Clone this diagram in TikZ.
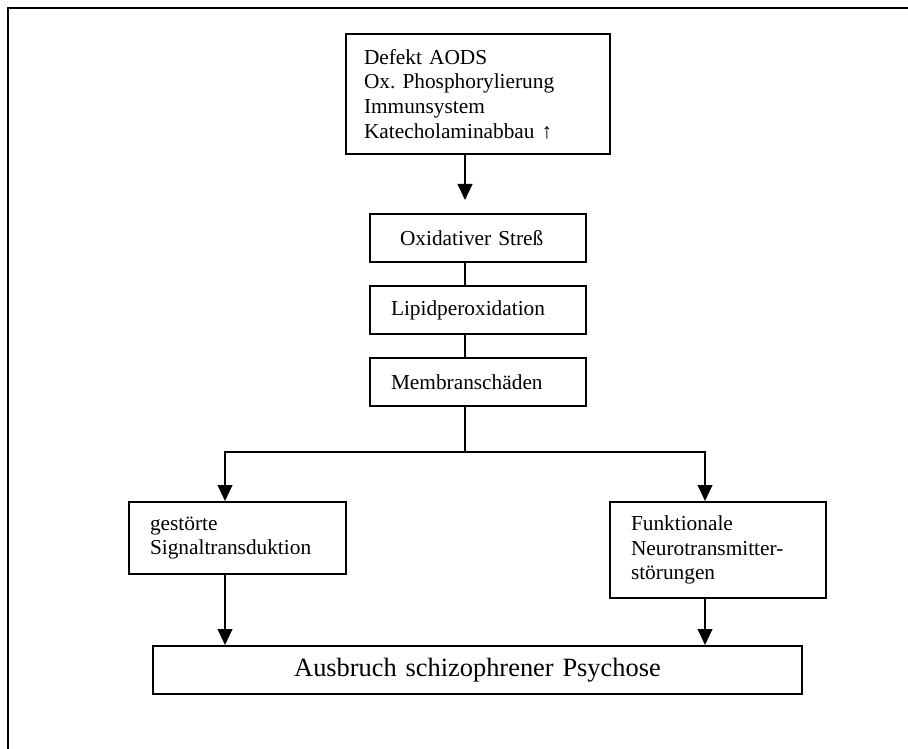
\documentclass[tikz,border=0pt]{standalone}
\usepackage{fontspec}
\setmainfont{Liberation Serif}
\usetikzlibrary{arrows.meta,calc}
\frenchspacing

\begin{document}
\begin{tikzpicture}[x=0.75pt,y=0.75pt,yscale=-1,xscale=1,
    box/.style={draw,line width=1.5,rectangle,anchor=north west,inner ysep=0pt,align=left,
        font=\fontsize{16}{18.5}\selectfont},
    link/.style={line width=1.5},
    arr/.style={line width=1.5,-{Triangle[length=12pt,width=11pt]}}]
                \useasboundingbox (0,0) rectangle (908,749);

                %Frame lines
                \draw [line width=1.5] (8,749) -- (8,8) -- (908,8) ;

                % Boxes
                \node [box,minimum height=90pt,inner xsep=13.5pt,text width=171pt] (defekt) at (345,33)
                    {Defekt AODS\\Ox. Phosphorylierung\\Immunsystem\\Katecholaminabbau ↑};
                \node [box,minimum height=36pt,inner xsep=22.5pt,text width=117pt] (stress) at (369,213) {Oxidativer Streß};
                \node [box,minimum height=36pt,inner xsep=15.75pt,text width=130.5pt] (lipid) at (369,285) {Lipidperoxidation};
                \node [box,minimum height=36pt,inner xsep=15.75pt,text width=130.5pt] (membran) at (369,357) {Membranschäden};
                \node [box,minimum height=54pt,inner xsep=15.75pt,text width=131.25pt] (signal) at (128,501)
                    {gestörte\\Signaltransduktion};
                \node [box,minimum height=72pt,inner xsep=15.75pt,text width=130.5pt] (neuro) at (609,501)
                    {Funktionale\\Neurotransmitter-\\störungen};
                \node [box,minimum height=36pt,inner xsep=0pt,text width=486.75pt,align=center,
                    font=\fontsize{19.8}{23}\selectfont] (ausbruch) at (152,645) {Ausbruch schizophrener Psychose};

                % Branch points
                \coordinate (fork) at (465,452);
                \coordinate (lx) at (225,452);
                \coordinate (rx) at (705,452);

                %Straight Lines
                \draw [arr,shorten >=9.75pt] (defekt.south -| fork) -- (stress.north -| fork) ;
                \draw [link] (stress.south -| fork) -- (lipid.north -| fork) ;
                \draw [link] (lipid.south -| fork) -- (membran.north -| fork) ;
                \draw [link] (membran.south -| fork) -- (fork) ;
                \draw [arr] (fork) -- (lx) -- (lx |- signal.north) ;
                \draw [arr] (fork) -- (rx) -- (rx |- neuro.north) ;
                \draw [arr] (signal.south -| lx) -- (ausbruch.north -| lx) ;
                \draw [arr] (neuro.south -| rx) -- (ausbruch.north -| rx) ;
        \end{tikzpicture}
\end{document}
